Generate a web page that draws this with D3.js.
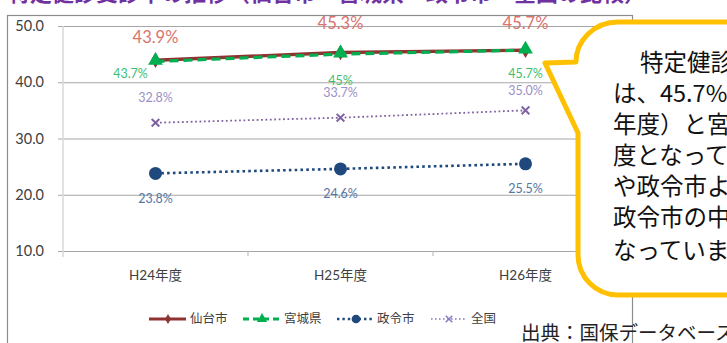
<!DOCTYPE html>
<html><head><meta charset="utf-8">
<script src="https://cdn.jsdelivr.net/npm/d3@7"></script>
<style>
html,body{margin:0;padding:0;background:#fff;overflow:hidden;}
svg{display:block;}
</style></head>
<body>
<svg id="chart" width="727" height="343"></svg>
<script>
// ---- data ----
const categories = ["H24年度", "H25年度", "H26年度"];
const sendai = [43.9, 45.3, 45.7];
const miyagi = [43.7, 45, 45.7];
const seirei = [23.8, 24.6, 25.5];
const zenkoku = [32.8, 33.7, 35.0];
const seriesNames = ["仙台市", "宮城県", "政令市", "全国"];
const yTicks = [10, 20, 30, 40, 50];
const titleText = "特定健診受診率の推移（仙台市・宮城県・政令市・全国の比較）";
const calloutLines = ["特定健診の受診率", "は、45.7%（平成26", "年度）と宮城県と同程", "度となっており、全国", "や政令市よりも高く、", "政令市の中では上位と", "なっています。"];
const sourceText = "出典：国保データベース";

// ---- layout ----
const svg = d3.select("#chart");
const FONT = "Lato, 'Noto Sans CJK JP', sans-serif";
const CJK = "'Noto Sans CJK JP', sans-serif";

const x = d3.scaleBand().domain(categories).range([63, 618]);
const y = d3.scaleLinear().domain([10, 50]).range([251, 26]);
const cx = c => x(c) + x.bandwidth() / 2;

// title (cut off at the top)
svg.append("text").attr("x", 8).attr("y", 1).attr("font-family", CJK)
  .attr("font-size", 22).attr("font-weight", 700).attr("fill", "#7030a0").text(titleText);

// frame
svg.append("rect").attr("x", 7.5).attr("y", 15.5).attr("width", 625).attr("height", 360)
  .attr("fill", "none").attr("stroke", "#8c8c8c").attr("stroke-width", 1.2);

// y axis + gridlines
const yAxis = svg.append("g").attr("transform", "translate(58,0)")
  .call(d3.axisLeft(y).tickValues(yTicks).tickFormat(d3.format(".1f"))
    .tickSizeInner(-562).tickSizeOuter(0).tickPadding(14));
yAxis.select(".domain").remove();
yAxis.selectAll(".tick line").attr("stroke", "#a6a6a6").attr("stroke-width", 1.2);
yAxis.selectAll(".tick text").attr("font-family", FONT).attr("font-size", 14.5).attr("fill", "#404040");

// y axis vertical line
svg.append("line").attr("x1", 63).attr("x2", 63).attr("y1", y(50)).attr("y2", y(10) + 6)
  .attr("stroke", "#d9d9d9").attr("stroke-width", 1.5);

// x axis
const xAxis = svg.append("g").attr("transform", `translate(0,${y(10)})`)
  .call(d3.axisBottom(x).tickSize(0).tickPadding(19));
xAxis.select(".domain").remove();
xAxis.selectAll(".tick text").attr("font-family", FONT).attr("font-size", 13.5).attr("fill", "#404040");
// boundary tick marks
svg.append("g").selectAll("line").data(categories.slice(1)).join("line")
  .attr("x1", d => x(d)).attr("x2", d => x(d)).attr("y1", y(10)).attr("y2", y(10) + 5)
  .attr("stroke", "#bfbfbf").attr("stroke-width", 1.2);

const line = d3.line().x((d, i) => cx(categories[i])).y(d => y(d));

// 全国
svg.append("path").datum(zenkoku).attr("d", line).attr("fill", "none")
  .attr("stroke", "#8064a2").attr("stroke-width", 1.8).attr("stroke-dasharray", "1.8,2.6");
svg.append("g").selectAll("path").data(zenkoku).join("path")
  .attr("transform", (d, i) => `translate(${cx(categories[i])},${y(d)})`)
  .attr("d", d3.symbol(d3.symbolX, 40)()).attr("fill", "none").attr("stroke", "#8064a2").attr("stroke-width", 2);

// 政令市
svg.append("path").datum(seirei).attr("d", line).attr("fill", "none")
  .attr("stroke", "#1f497d").attr("stroke-width", 2.6).attr("stroke-dasharray", "2.6,3.2");
svg.append("g").selectAll("circle").data(seirei).join("circle")
  .attr("cx", (d, i) => cx(categories[i])).attr("cy", d => y(d)).attr("r", 6.5).attr("fill", "#1f497d");

// 仙台市
svg.append("path").datum(sendai).attr("d", line).attr("fill", "none")
  .attr("stroke", "#8e3330").attr("stroke-width", 3.4);
svg.append("g").selectAll("path").data(sendai).join("path")
  .attr("transform", (d, i) => `translate(${cx(categories[i])},${y(d)})`)
  .attr("d", d3.symbol(d3.symbolDiamond, 70)()).attr("fill", "#8e3330");

// 宮城県
svg.append("path").datum(miyagi).attr("d", line).attr("fill", "none")
  .attr("stroke", "#00b050").attr("stroke-width", 3.2).attr("stroke-dasharray", "9,5");
svg.append("g").selectAll("path").data(miyagi).join("path")
  .attr("transform", (d, i) => `translate(${cx(categories[i])},${y(d) - 1})`)
  .attr("d", d3.symbol(d3.symbolTriangle, 95)()).attr("fill", "#00b050");

// ---- data labels ----
function labels(vals, fmt, dxs, dys, color, size) {
  svg.append("g").selectAll("text").data(vals).join("text")
    .attr("x", (d, i) => cx(categories[i]) + dxs[i])
    .attr("y", (d, i) => y(d) + dys[i])
    .attr("dy", "0.35em").attr("text-anchor", "middle")
    .attr("font-family", FONT).attr("font-size", size).attr("fill", color)
    .text(fmt);
}
labels(sendai, d => d.toFixed(1) + "%", [0, 0, 0], [-23, -29, -27], "#d9736e", 16.5);
labels(miyagi, d => d + "%", [-25, 0, 0], [12, 26, 23], "#3cc070", 12.5);
labels(zenkoku, d => d.toFixed(1) + "%", [0, 0, 0], [-25, -25, -20], "#9c8fc6", 12.5);
labels(seirei, d => d.toFixed(1) + "%", [0, 0, 0], [25, 25, 25], "#5576a3", 12.5);

// ---- legend ----
const legY = 319;
const leg = svg.append("g");
const legendItems = [
  {x1: 149, x2: 186, mx: 168, tx: 190, color: "#8e3330", dash: null, w: 3, sym: d3.symbolDiamond, size: 30, fill: true},
  {x1: 243, x2: 282, mx: 262, tx: 284, color: "#00b050", dash: "6,4", w: 3, sym: d3.symbolTriangle, size: 45, fill: true},
  {x1: 337, x2: 372, mx: 356, tx: 377, color: "#1f497d", dash: "2.4,3", w: 2.4, sym: d3.symbolCircle, size: 60, fill: true},
  {x1: 431, x2: 467, mx: 449, tx: 471, color: "#8c7ac4", dash: "1.6,2.4", w: 1.6, sym: d3.symbolX, size: 30, fill: false}
];
legendItems.forEach((it, i) => {
  leg.append("line").attr("x1", it.x1).attr("x2", it.x2).attr("y1", legY).attr("y2", legY)
    .attr("stroke", it.color).attr("stroke-width", it.w).attr("stroke-dasharray", it.dash);
  leg.append("path").attr("transform", `translate(${it.mx},${legY})`)
    .attr("d", d3.symbol(it.sym, it.size)())
    .attr("fill", it.fill ? it.color : "none").attr("stroke", it.fill ? "none" : it.color).attr("stroke-width", 1.5);
  leg.append("text").attr("x", it.tx).attr("y", legY).attr("dy", "0.35em")
    .attr("font-family", CJK).attr("font-size", 12.5).attr("fill", "#404040").text(seriesNames[i]);
});

// ---- source ----
svg.append("text").attr("x", 521).attr("y", 340).attr("font-family", CJK)
  .attr("font-size", 19.5).attr("fill", "#222").text(sourceText);

// ---- callout ----
svg.append("path")
  .attr("d", "M545,63 L576,62 A42,40 0 0 1 618,22 L800,22 L800,295 L618,295 A40,40 0 0 1 578,255 L578,133 Z")
  .attr("fill", "#fff").attr("stroke", "#ffc000").attr("stroke-width", 5).attr("stroke-linejoin", "round");
svg.append("g").selectAll("text").data(calloutLines).join("text")
  .attr("x", (d, i) => i === 0 ? 640 : 613)
  .attr("y", (d, i) => 63 + i * 31 + (i === 6 ? 2 : 0))
  .attr("dy", "0.36em")
  .attr("font-family", CJK).attr("font-size", 23.5).attr("fill", "#111")
  .text(d => d);
</script>
</body></html>
